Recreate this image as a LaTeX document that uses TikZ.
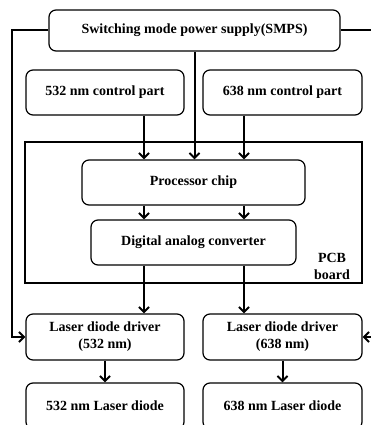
\documentclass[tikz,border=0pt]{standalone}
\usepackage{fontspec}
\setmainfont{Liberation Serif}
\usetikzlibrary{arrows.meta}
\begin{document}
\begin{tikzpicture}[x=1pt,y=-1pt,
  box/.style={draw, rounded corners=7pt, line width=1.2pt, font=\bfseries\fontsize{14}{17}\selectfont, align=center, inner sep=0pt},
  board/.style={draw, line width=1.2pt, inner sep=0pt},
  lbl/.style={font=\bfseries\fontsize{14}{17}\selectfont, align=center, inner sep=0pt},
  wire/.style={line width=2pt},
  arr/.style={wire, -{Straight Barb[length=5pt,width=10pt,line width=2pt]}}]
\clip (0,0) rectangle (371,425);
\useasboundingbox (0,0) rectangle (371,425);
% nodes
\node[box, minimum width=291pt, minimum height=41pt] (smps) at (194.5,30.5) {Switching mode power supply(SMPS)};
\node[box, minimum width=158pt, minimum height=45pt] (c532) at (105,92.5) {532 nm control part};
\node[box, minimum width=159pt, minimum height=45pt] (c638) at (282.5,92.5) {638 nm control part};
\node[board, minimum width=337pt, minimum height=141pt] (pcb) at (193.5,212.5) {};
\node[lbl] (pcbl) at (332,266.5) {PCB\\board};
\node[box, minimum width=223pt, minimum height=45pt] (proc) at (193.5,182.5) {Processor chip};
\node[box, minimum width=205pt, minimum height=45pt] (dac) at (193.5,242.5) {Digital analog converter};
\node[box, minimum width=158pt, minimum height=46pt] (d532) at (105,337) {Laser diode driver\\(532 nm)};
\node[box, minimum width=159pt, minimum height=46pt] (d638) at (282.5,337) {Laser diode driver\\(638 nm)};
\node[box, minimum width=158pt, minimum height=46pt] (l532) at (105,406) {532 nm Laser diode};
\node[box, minimum width=159pt, minimum height=46pt] (l638) at (282.5,406) {638 nm Laser diode};
% helper coordinates
\coordinate (xa) at (144,0);
\coordinate (xb) at (244,0);
\coordinate (lw) at (12,30.5);
\coordinate (rw) at (385,30.5);
% connectors
\draw[arr] (smps.west) -- (lw) |- (d532.west);
\draw[arr] (smps.east) -- (rw) |- (d638.east);
\draw[arr] (smps.south) -- (smps.south |- proc.north);
\draw[arr] (xa |- c532.south) -- (xa |- proc.north);
\draw[arr] (xb |- c638.south) -- (xb |- proc.north);
\draw[arr] (xa |- proc.south) -- (xa |- dac.north);
\draw[arr] (xb |- proc.south) -- (xb |- dac.north);
\draw[arr] (xa |- dac.south) -- (xa |- d532.north);
\draw[arr] (xb |- dac.south) -- (xb |- d638.north);
\draw[arr] (d532.south) -- (l532.north);
\draw[arr] (d638.south) -- (l638.north);
\end{tikzpicture}
\end{document}
